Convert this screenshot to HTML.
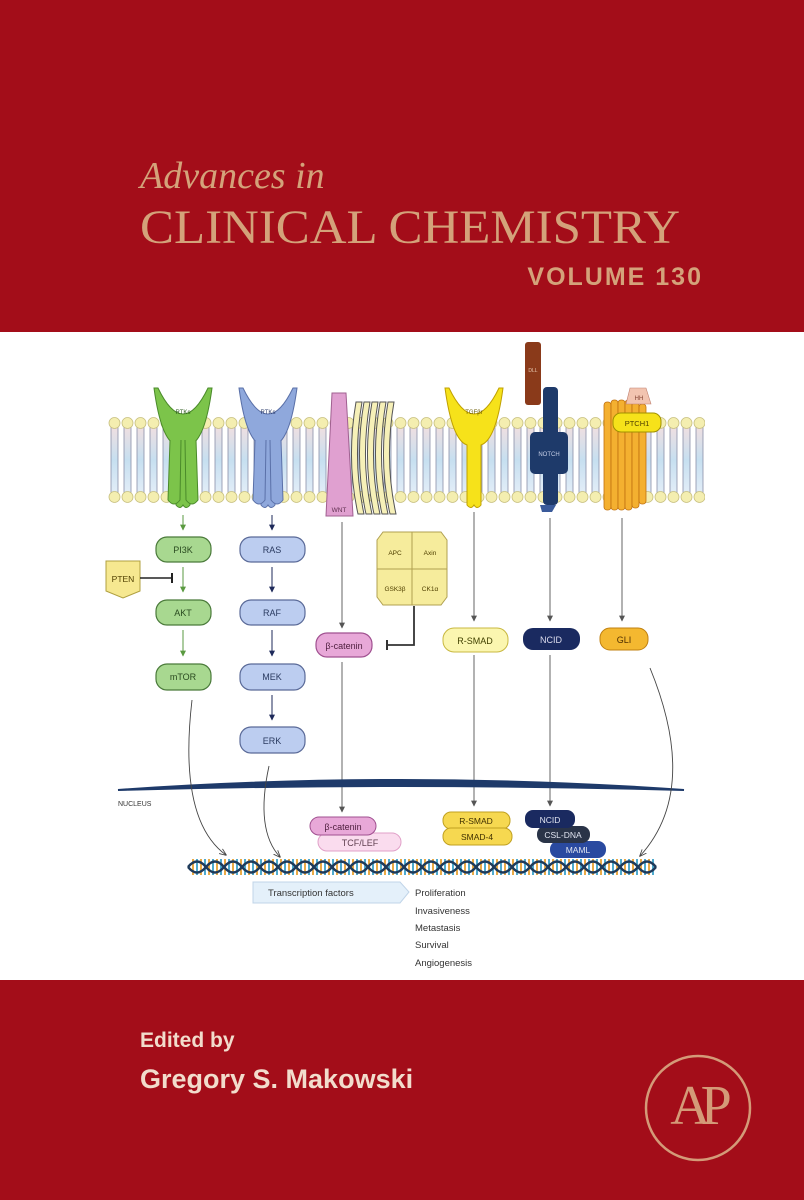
<!DOCTYPE html>
<html><head><meta charset="utf-8"><style>
html,body{margin:0;padding:0;background:#a30d19}
svg{display:block}
</style></head><body>
<svg width="804" height="1200" viewBox="0 0 804 1200" xmlns="http://www.w3.org/2000/svg" font-family="Liberation Sans, sans-serif">
<defs>
<linearGradient id="mem" x1="0" y1="0" x2="0" y2="1">
<stop offset="0" stop-color="#f2dfe0"/><stop offset="0.5" stop-color="#c6dff0"/><stop offset="1" stop-color="#e4eef8"/>
</linearGradient>
<pattern id="lip" x="108" y="0" width="13" height="1200" patternUnits="userSpaceOnUse">
<rect x="3" y="425" width="7" height="70" fill="url(#mem)" stroke="#8a8fa8" stroke-width="0.8"/>
<circle cx="6.5" cy="423" r="5.5" fill="#f4eeb0" stroke="#c8c080" stroke-width="0.8"/>
<circle cx="6.5" cy="497" r="5.5" fill="#f4eeb0" stroke="#c8c080" stroke-width="0.8"/>
</pattern>
<pattern id="rung" x="0" y="0" width="8" height="30" patternUnits="userSpaceOnUse">
<rect x="0" y="0" width="2" height="30" fill="#e8a030"/><rect x="4" y="0" width="2" height="30" fill="#3aa0c8"/>
</pattern>
<marker id="ar" viewBox="0 0 10 10" refX="9" refY="5" markerWidth="6" markerHeight="6" orient="auto"><path d="M0,0L10,5L0,10z" fill="#555"/></marker>
<marker id="arg" viewBox="0 0 10 10" refX="9" refY="5" markerWidth="6" markerHeight="6" orient="auto"><path d="M0,0L10,5L0,10z" fill="#5a9a40"/></marker>
<marker id="arn" viewBox="0 0 10 10" refX="9" refY="5" markerWidth="6" markerHeight="6" orient="auto"><path d="M0,0L10,5L0,10z" fill="#1e2a5a"/></marker>
<marker id="open" viewBox="0 0 10 10" refX="9" refY="5" markerWidth="8" markerHeight="8" orient="auto"><path d="M0,1L10,5L0,9" fill="none" stroke="#444" stroke-width="1.2"/></marker>
</defs>
<rect width="804" height="1200" fill="#a30d19"/>
<rect x="0" y="332" width="804" height="648" fill="#ffffff"/>

<!-- title -->
<text x="140" y="188" font-family="Liberation Serif, serif" font-style="italic" font-size="38" fill="#d4a27a">Advances in</text>
<text x="140" y="243" font-family="Liberation Serif, serif" font-size="48" fill="#d4a27a" textLength="540" lengthAdjust="spacingAndGlyphs">CLINICAL CHEMISTRY</text>
<text x="703" y="285" text-anchor="end" font-weight="bold" font-size="25" fill="#d4a27a" letter-spacing="2">VOLUME 130</text>

<!-- membrane -->
<rect x="108" y="415" width="597" height="88" fill="url(#lip)"/>

<!-- green RTK -->
<g fill="#7cc44a" stroke="#4a8a2a" stroke-width="1">
<path d="M158,388 Q183,440 208,388 L212,388 Q205,440 190,445 L190,505 Q186,510 183,505 Q180,510 176,505 L176,445 Q161,440 154,388 Z"/>
<path d="M170,440 L168,500 Q174,508 180,500 L181,440 M185,440 L186,500 Q192,508 198,500 L196,440" />
</g>
<text x="183" y="414" font-size="6" text-anchor="middle" fill="#2a5a1a">RTKs</text>
<!-- blue RTK -->
<g fill="#8fa8dc" stroke="#5a70a8" stroke-width="1">
<path d="M243,388 Q268,440 293,388 L297,388 Q290,440 275,445 L275,505 Q271,510 268,505 Q265,510 261,505 L261,445 Q246,440 239,388 Z"/>
<path d="M255,440 L253,500 Q259,508 265,500 L266,440 M270,440 L271,500 Q277,508 283,500 L281,440"/>
</g>
<text x="268" y="414" font-size="6" text-anchor="middle" fill="#2a3a6a">RTKs</text>
<!-- WNT -->
<path d="M332,393 L346,393 L353,516 L326,516 Z" fill="#e0a0d0" stroke="#a06090"/>
<text x="339" y="512" font-size="6.5" text-anchor="middle" fill="#603050">WNT</text>
<!-- frizzled -->
<g fill="#f6f0b8" stroke="#555" stroke-width="1">
<path d="M356,402 Q346,460 358,514 L364,514 Q352,460 362,402Z"/>
<path d="M364,402 Q354,460 366,514 L372,514 Q360,460 370,402Z"/>
<path d="M372,402 Q362,460 374,514 L380,514 Q368,460 378,402Z"/>
<path d="M380,402 Q370,460 382,514 L388,514 Q376,460 386,402Z"/>
<path d="M388,402 Q378,460 390,514 L396,514 Q384,460 394,402Z"/>
</g>
<!-- TGFbr -->
<g fill="#f6e21a" stroke="#c0a000" stroke-width="1">
<path d="M449,388 Q474,440 499,388 L503,388 Q496,440 481,445 L481,505 Q477,510 474,505 Q471,510 467,505 L467,445 Q452,440 445,388 Z"/>
</g>
<text x="474" y="414" font-size="6" text-anchor="middle" fill="#6a5a00">TGFβr</text>
<!-- DLL -->
<rect x="525" y="342" width="16" height="63" rx="3" fill="#8a3a1a"/>
<text x="533" y="372" font-size="5" text-anchor="middle" fill="#e8c8b0">DLL</text>
<!-- NOTCH -->
<rect x="543" y="387" width="15" height="118" rx="4" fill="#1e3a6a"/>
<rect x="530" y="432" width="38" height="42" rx="5" fill="#1e3a6a"/>
<path d="M540,505 L556,505 L552,512 L542,512Z" fill="#3a5a9a"/>
<text x="549" y="456" font-size="6" text-anchor="middle" fill="#c8d0e8">NOTCH</text>
<!-- PTCH1 -->
<g fill="#f4b030" stroke="#c07010" stroke-width="0.8">
<rect x="604" y="402" width="7" height="108" rx="3"/><rect x="611" y="400" width="7" height="110" rx="3"/>
<rect x="618" y="400" width="7" height="110" rx="3"/><rect x="625" y="400" width="7" height="110" rx="3"/>
<rect x="632" y="402" width="7" height="106" rx="3"/><rect x="639" y="404" width="7" height="100" rx="3"/>
</g>
<path d="M630,388 L646,388 L651,404 L626,404Z" fill="#f2c4b0" stroke="#c08070" stroke-width="0.6"/>
<text x="639" y="400" font-size="6" text-anchor="middle" fill="#804030">HH</text>
<rect x="613" y="413" width="48" height="19" rx="8" fill="#f6e21a" stroke="#a09000"/>
<text x="637" y="426" font-size="7.5" text-anchor="middle" fill="#504000">PTCH1</text>

<!-- PI3K column -->
<g stroke="#5a9a40" stroke-width="1"><line x1="183" y1="515" x2="183" y2="530" marker-end="url(#arg)"/><line x1="183" y1="567" x2="183" y2="592" marker-end="url(#arg)"/><line x1="183" y1="630" x2="183" y2="656" marker-end="url(#arg)"/></g>
<g fill="#a8d890" stroke="#4a7a3a" stroke-width="1.2">
<rect x="156" y="537" width="55" height="25" rx="11"/><rect x="156" y="600" width="55" height="25" rx="11"/><rect x="156" y="664" width="55" height="26" rx="11"/>
</g>
<g font-size="9" text-anchor="middle" fill="#2a4a20"><text x="183" y="553">PI3K</text><text x="183" y="616">AKT</text><text x="183" y="680">mTOR</text></g>
<path d="M106,561 L140,561 L140,591 L123,598 L106,591Z" fill="#f6e890" stroke="#b0a040"/>
<text x="123" y="582" font-size="8.5" text-anchor="middle" fill="#504000">PTEN</text>
<line x1="140" y1="578" x2="172" y2="578" stroke="#222" stroke-width="1.5"/><line x1="172" y1="573" x2="172" y2="583" stroke="#222" stroke-width="2"/>
<!-- RAS column -->
<g stroke="#1e2a5a" stroke-width="1"><line x1="272" y1="515" x2="272" y2="530" marker-end="url(#arn)"/><line x1="272" y1="567" x2="272" y2="592" marker-end="url(#arn)"/><line x1="272" y1="630" x2="272" y2="656" marker-end="url(#arn)"/><line x1="272" y1="695" x2="272" y2="720" marker-end="url(#arn)"/></g>
<g fill="#bccdf0" stroke="#5a6a98" stroke-width="1.2">
<rect x="240" y="537" width="65" height="25" rx="11"/><rect x="240" y="600" width="65" height="25" rx="11"/><rect x="240" y="664" width="65" height="26" rx="11"/><rect x="240" y="727" width="65" height="26" rx="11"/>
</g>
<g font-size="9" text-anchor="middle" fill="#2a3a60"><text x="272" y="553">RAS</text><text x="272" y="616">RAF</text><text x="272" y="680">MEK</text><text x="272" y="744">ERK</text></g>

<!-- APC complex -->
<path d="M383,532 L412,532 L412,605 L383,605 L377,597 L377,540Z" fill="#f6ec9c" stroke="#b0a050"/>
<path d="M412,532 L441,532 L447,540 L447,597 L441,605 L412,605Z" fill="#f6ec9c" stroke="#b0a050"/>
<line x1="377" y1="569" x2="447" y2="569" stroke="#b0a050"/>
<g font-size="6.5" text-anchor="middle" fill="#504000"><text x="395" y="555">APC</text><text x="430" y="555">Axin</text><text x="395" y="591">GSK3β</text><text x="430" y="591">CK1α</text></g>
<path d="M414,606 L414,645 L388,645" fill="none" stroke="#333" stroke-width="1.8"/><line x1="387" y1="640" x2="387" y2="650" stroke="#333" stroke-width="2"/>
<!-- lines down -->
<g stroke="#666" stroke-width="1">
<line x1="342" y1="522" x2="342" y2="628" marker-end="url(#ar)"/>
<line x1="474" y1="512" x2="474" y2="621" marker-end="url(#ar)"/>
<line x1="550" y1="518" x2="550" y2="621" marker-end="url(#ar)"/>
<line x1="622" y1="518" x2="622" y2="621" marker-end="url(#ar)"/>
<line x1="342" y1="662" x2="342" y2="812" marker-end="url(#ar)"/>
<line x1="474" y1="655" x2="474" y2="806" marker-end="url(#ar)"/>
<line x1="550" y1="655" x2="550" y2="806" marker-end="url(#ar)"/>
</g>
<rect x="316" y="633" width="56" height="24" rx="11" fill="#e8a8d8" stroke="#a05090" stroke-width="1.2"/>
<text x="344" y="649" font-size="9" text-anchor="middle" fill="#502040">β-catenin</text>
<rect x="443" y="628" width="65" height="24" rx="11" fill="#fbf6b0" stroke="#c8b840"/>
<text x="475" y="644" font-size="9" text-anchor="middle" fill="#404000">R-SMAD</text>
<rect x="523" y="628" width="57" height="22" rx="10" fill="#1a2a60"/>
<text x="551" y="643" font-size="9" text-anchor="middle" fill="#dde">NCID</text>
<rect x="600" y="628" width="48" height="22" rx="10" fill="#f4b830" stroke="#c08010"/>
<text x="624" y="643" font-size="9" text-anchor="middle" fill="#503000">GLI</text>

<!-- nucleus -->
<path d="M118,790 Q400,770 684,790 Q400,782 118,790Z" fill="#1e3a6a" stroke="#1e3a6a" stroke-width="2"/>
<text x="118" y="806" font-size="7" fill="#333">NUCLEUS</text>
<!-- curved arrows -->
<g fill="none" stroke="#444" stroke-width="0.9">
<path d="M192,700 Q178,820 226,855" marker-end="url(#open)"/>
<path d="M269,766 Q255,830 280,857" marker-end="url(#open)"/>
<path d="M650,668 Q700,790 640,856" marker-end="url(#open)"/>
</g>
<!-- nuclear complexes -->
<rect x="318" y="833" width="83" height="18" rx="9" fill="#fadcee" stroke="#e0a0c8"/>
<text x="360" y="846" font-size="9" text-anchor="middle" fill="#604050">TCF/LEF</text>
<rect x="310" y="817" width="66" height="18" rx="9" fill="#e8a8d8" stroke="#a05090"/>
<text x="343" y="830" font-size="9" text-anchor="middle" fill="#502040">β-catenin</text>
<rect x="443" y="812" width="67" height="17" rx="8" fill="#f6d850" stroke="#c0a020"/>
<rect x="443" y="828" width="69" height="17" rx="8" fill="#f6d850" stroke="#c0a020"/>
<g font-size="8.5" text-anchor="middle" fill="#403000"><text x="476" y="824">R-SMAD</text><text x="477" y="840">SMAD-4</text></g>
<rect x="550" y="841" width="56" height="17" rx="8" fill="#2a4aa0"/>
<rect x="537" y="826" width="53" height="17" rx="8" fill="#2a3448"/>
<rect x="525" y="810" width="50" height="18" rx="8" fill="#1a2a60"/>
<g font-size="8.5" text-anchor="middle" fill="#e0e4f0"><text x="550" y="823">NCID</text><text x="563" y="838">CSL-DNA</text><text x="578" y="853">MAML</text></g>

<!-- DNA -->
<rect x="190" y="859" width="466" height="16" fill="url(#rung)" opacity="0.9"/>
<path d="M188,867 q9,-11 18,0 t18,0 t18,0 t18,0 t18,0 t18,0 t18,0 t18,0 t18,0 t18,0 t18,0 t18,0 t18,0 t18,0 t18,0 t18,0 t18,0 t18,0 t18,0 t18,0 t18,0 t18,0 t18,0 t18,0 t18,0 t18,0" fill="none" stroke="#1e3a5a" stroke-width="2.5"/>
<path d="M188,867 q9,11 18,0 t18,0 t18,0 t18,0 t18,0 t18,0 t18,0 t18,0 t18,0 t18,0 t18,0 t18,0 t18,0 t18,0 t18,0 t18,0 t18,0 t18,0 t18,0 t18,0 t18,0 t18,0 t18,0 t18,0 t18,0 t18,0" fill="none" stroke="#1e3a5a" stroke-width="2.5"/>

<!-- transcription -->
<path d="M253,882 L400,882 L409,892 L400,903 L253,903Z" fill="#e4f0fa" stroke="#c0d4e8"/>
<text x="268" y="896" font-size="9.5" fill="#333">Transcription factors</text>
<g font-size="9.5" fill="#333"><text x="415" y="896">Proliferation</text><text x="415" y="914">Invasiveness</text><text x="415" y="931">Metastasis</text><text x="415" y="948">Survival</text><text x="415" y="966">Angiogenesis</text></g>

<!-- bottom -->
<text x="140" y="1047" font-weight="bold" font-size="21" fill="#f2dccc">Edited by</text>
<text x="140" y="1088" font-weight="bold" font-size="27" fill="#f2dccc">Gregory S. Makowski</text>
<circle cx="698" cy="1108" r="52" fill="none" stroke="#d49a78" stroke-width="2.5"/>
<text x="696" y="1124" text-anchor="middle" font-family="Liberation Serif, serif" font-size="56" fill="#d49a78" letter-spacing="-10">AP</text>
</svg>
</body></html>
